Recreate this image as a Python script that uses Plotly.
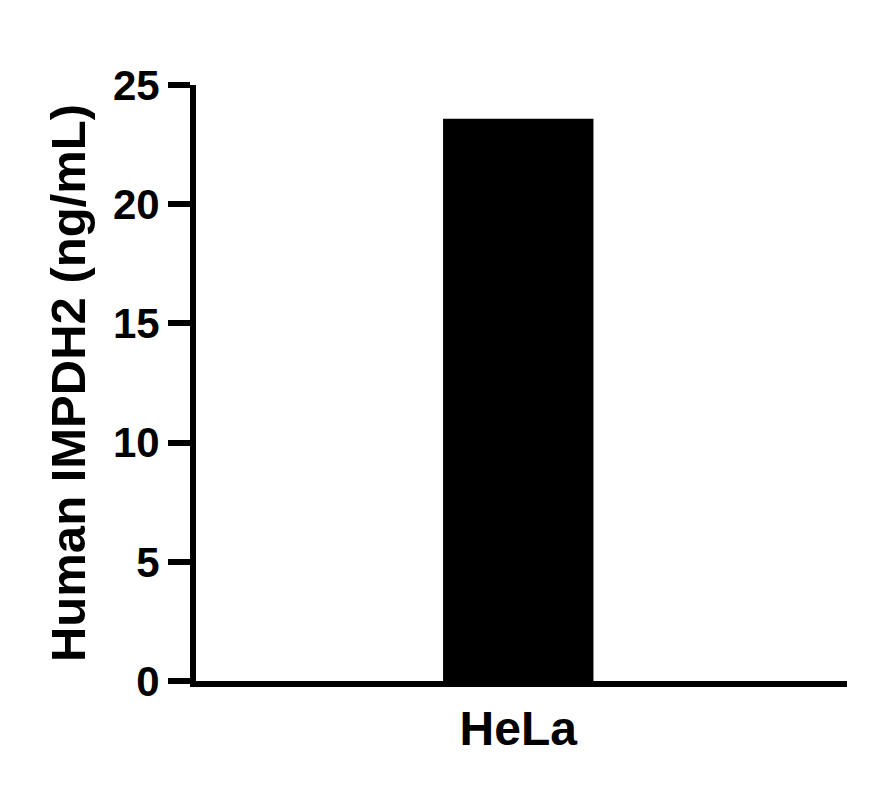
import plotly.graph_objects as go

# data
samples = ["HeLa"]
impdh2_ng_ml = [23.58]

y_ticks = [0, 5, 10, 15, 20, 25]

font_family = "Liberation Sans, Arial, sans-serif"

fig = go.Figure()
fig.add_trace(go.Bar(
    x=samples,
    y=impdh2_ng_ml,
    width=0.231,
    marker=dict(color="black", line=dict(width=0)),
))

fig.update_layout(
    width=875,
    height=804,
    margin=dict(l=188, r=36, t=77, b=131),
    paper_bgcolor="white",
    plot_bgcolor="white",
    showlegend=False,
    font=dict(family=font_family, color="black", weight="bold"),
)

fig.update_xaxes(
    range=[-0.495, 0.505],
    showline=True,
    linewidth=6,
    linecolor="black",
    ticks="",
    showgrid=False,
    tickfont=dict(size=48, weight="bold"),
)

fig.update_yaxes(
    title=dict(text="Human IMPDH2 (ng/mL)", font=dict(size=49, weight="bold"), standoff=14),
    range=[0, 25],
    tickvals=y_ticks,
    showline=True,
    linewidth=6,
    linecolor="black",
    ticks="outside",
    ticklen=22,
    tickwidth=6,
    tickcolor="black",
    showgrid=False,
    zeroline=False,
    tickfont=dict(size=42, weight="bold"),
)

fig.write_html("out.html")
